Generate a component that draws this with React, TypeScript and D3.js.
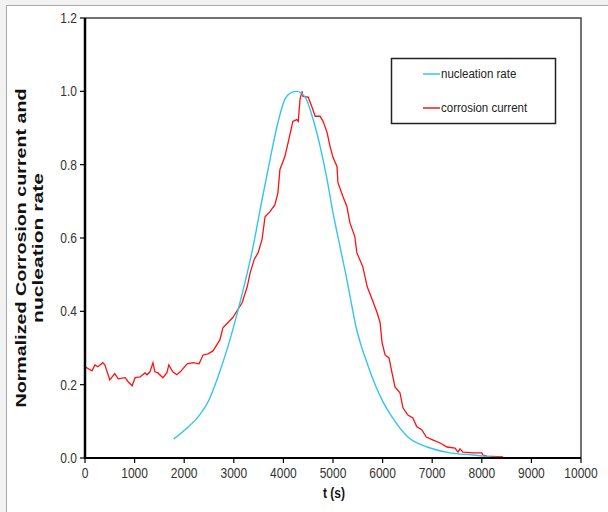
import React from "react";
import * as d3 from "d3";

const nucT = [1790, 2040, 2280, 2500, 2680, 2880, 2980, 3190, 3390, 3570, 3730, 3890, 4030, 4170, 4270, 4440, 4600, 4740, 4880, 5000, 5140, 5280, 5380, 5460, 5560, 5690, 5840, 5990, 6190, 6510, 6900, 7360, 7820, 8170, 8550];
const nucV = [0.052, 0.080, 0.112, 0.158, 0.221, 0.303, 0.350, 0.459, 0.577, 0.705, 0.814, 0.915, 0.978, 0.997, 1.0, 0.984, 0.923, 0.850, 0.760, 0.669, 0.577, 0.486, 0.415, 0.360, 0.310, 0.258, 0.203, 0.158, 0.112, 0.057, 0.030, 0.014, 0.008, 0.003, 0.0];

const corT = [0, 140, 200, 260, 360, 400, 500, 600, 670, 810, 870, 950, 1010, 1110, 1210, 1250, 1310, 1370, 1410, 1470, 1570, 1650, 1690, 1770, 1850, 1920, 2060, 2180, 2300, 2380, 2480, 2580, 2660, 2720, 2780, 2980, 3170, 3270, 3330, 3410, 3490, 3570, 3630, 3730, 3830, 3890, 3930, 4030, 4110, 4190, 4270, 4300, 4335, 4375, 4395, 4500, 4580, 4640, 4740, 4800, 4880, 4940, 5000, 5080, 5100, 5200, 5280, 5340, 5440, 5480, 5600, 5690, 5790, 5890, 5950, 5990, 6050, 6130, 6190, 6250, 6350, 6410, 6510, 6610, 6690, 6790, 6880, 7020, 7160, 7300, 7460, 7520, 7560, 7620, 7820, 8000, 8020, 8100, 8430];
const corV = [0.249, 0.238, 0.254, 0.249, 0.260, 0.254, 0.213, 0.230, 0.216, 0.219, 0.208, 0.197, 0.219, 0.221, 0.232, 0.227, 0.235, 0.260, 0.235, 0.232, 0.219, 0.232, 0.254, 0.235, 0.227, 0.235, 0.257, 0.260, 0.257, 0.281, 0.284, 0.292, 0.309, 0.322, 0.355, 0.383, 0.424, 0.467, 0.505, 0.541, 0.560, 0.596, 0.658, 0.672, 0.691, 0.724, 0.787, 0.822, 0.869, 0.918, 0.923, 0.918, 0.978, 1.0, 0.986, 0.984, 0.956, 0.932, 0.932, 0.918, 0.888, 0.850, 0.820, 0.795, 0.751, 0.713, 0.686, 0.642, 0.604, 0.560, 0.522, 0.467, 0.432, 0.396, 0.369, 0.314, 0.281, 0.273, 0.232, 0.194, 0.178, 0.137, 0.117, 0.109, 0.085, 0.077, 0.057, 0.049, 0.041, 0.030, 0.027, 0.016, 0.025, 0.016, 0.014, 0.014, 0.008, 0.005, 0.003];

const xTicks = [0, 1000, 2000, 3000, 4000, 5000, 6000, 7000, 8000, 9000, 10000];
const yTicks = [0, 0.2, 0.4, 0.6, 0.8, 1.0, 1.2];
const seriesNames = ["nucleation rate", "corrosion current"];
const seriesColors = ["#33c4f4", "#ff1010"];
const yTitle = ["Normalized Corrosion current and", "nucleation rate"];
const xTitle = "t (s)";

const L = 85, R = 581, T = 18, B = 458;

export default function App() {
  const x = d3.scaleLinear().domain([0, 10000]).range([L, R]);
  const y = d3.scaleLinear().domain([0, 1.2]).range([B, T]);
  const line = d3.line<[number, number]>().x(d => x(d[0])).y(d => y(d[1]));
  const smooth = d3.line<[number, number]>().x(d => x(d[0])).y(d => y(d[1])).curve(d3.curveMonotoneX);
  const nuc = nucT.map((t, i) => [t, nucV[i]] as [number, number]);
  const cor = corT.map((t, i) => [t, corV[i]] as [number, number]);
  const font = "'Liberation Sans', Arial, sans-serif";
  return (
    <svg width={608} height={512} style={{ position: "absolute", left: 0, top: 0 }} fontFamily={font}>
      <rect x={0} y={0} width={608} height={512} fill="#f1f2f1" />
      <rect x={6.5} y={5.5} width={610} height={520} fill="#ffffff" stroke="#a8a8a8" strokeWidth={1} />
      <path d={`M${L},${T}H${R}V${B}`} fill="none" stroke="#444" strokeWidth={1.5} />
      <clipPath id="clip"><rect x={L} y={T} width={R - L} height={B - T} /></clipPath>
      <g clipPath="url(#clip)">
        <path d={line(cor) || ""} fill="none" stroke={seriesColors[1]} strokeWidth={1.3} />
        <path d={smooth(nuc) || ""} fill="none" stroke={seriesColors[0]} strokeWidth={1.4} />
      </g>
      <line x1={L} x2={R} y1={B} y2={B} stroke="#000" strokeWidth={2} />
      <line x1={L} x2={L} y1={T} y2={B + 1} stroke="#000" strokeWidth={2.5} />
      {yTicks.map(v => (
        <g key={"y" + v}>
          <line x1={L - 5} x2={L} y1={y(v)} y2={y(v)} stroke="#000" strokeWidth={1.2} />
          <text transform={`translate(${L - 8},${y(v) + 5}) scale(1,1.15)`} textAnchor="end" fontSize={12} fill="#333">{v.toFixed(1)}</text>
        </g>
      ))}
      {xTicks.map(v => (
        <g key={"x" + v}>
          <line x1={x(v)} x2={x(v)} y1={B} y2={B + 5} stroke="#000" strokeWidth={1.2} />
          <text transform={`translate(${x(v)},${B + 20}) scale(1,1.15)`} textAnchor="middle" fontSize={12} fill="#333">{v}</text>
        </g>
      ))}
      <text transform={`translate(${x(5000) + 1},${498}) scale(1,1.15)`} textAnchor="middle" fontSize={12} fontWeight="bold" fill="#111">{xTitle}</text>
      <text transform={`translate(26,${248}) rotate(-90)`} textAnchor="middle" fontSize={15.5} fontWeight="bold" fill="#111" textLength={319} lengthAdjust="spacingAndGlyphs">{yTitle[0]}</text>
      <text transform={`translate(43,${248}) rotate(-90)`} textAnchor="middle" fontSize={15.5} fontWeight="bold" fill="#111" textLength={150} lengthAdjust="spacingAndGlyphs">{yTitle[1]}</text>
      <rect x={391.5} y={58.5} width={164} height={65} fill="#fff" stroke="#222" strokeWidth={1.5} />
      {seriesNames.map((n, i) => (
        <g key={n}>
          <line x1={423} x2={440} y1={74 + i * 34} y2={74 + i * 34} stroke={seriesColors[i]} strokeWidth={1.5} />
          <text transform={`translate(441,${78 + i * 34}) scale(1,1.15)`} fontSize={11.5} fill="#222">{n}</text>
        </g>
      ))}
    </svg>
  );
}
